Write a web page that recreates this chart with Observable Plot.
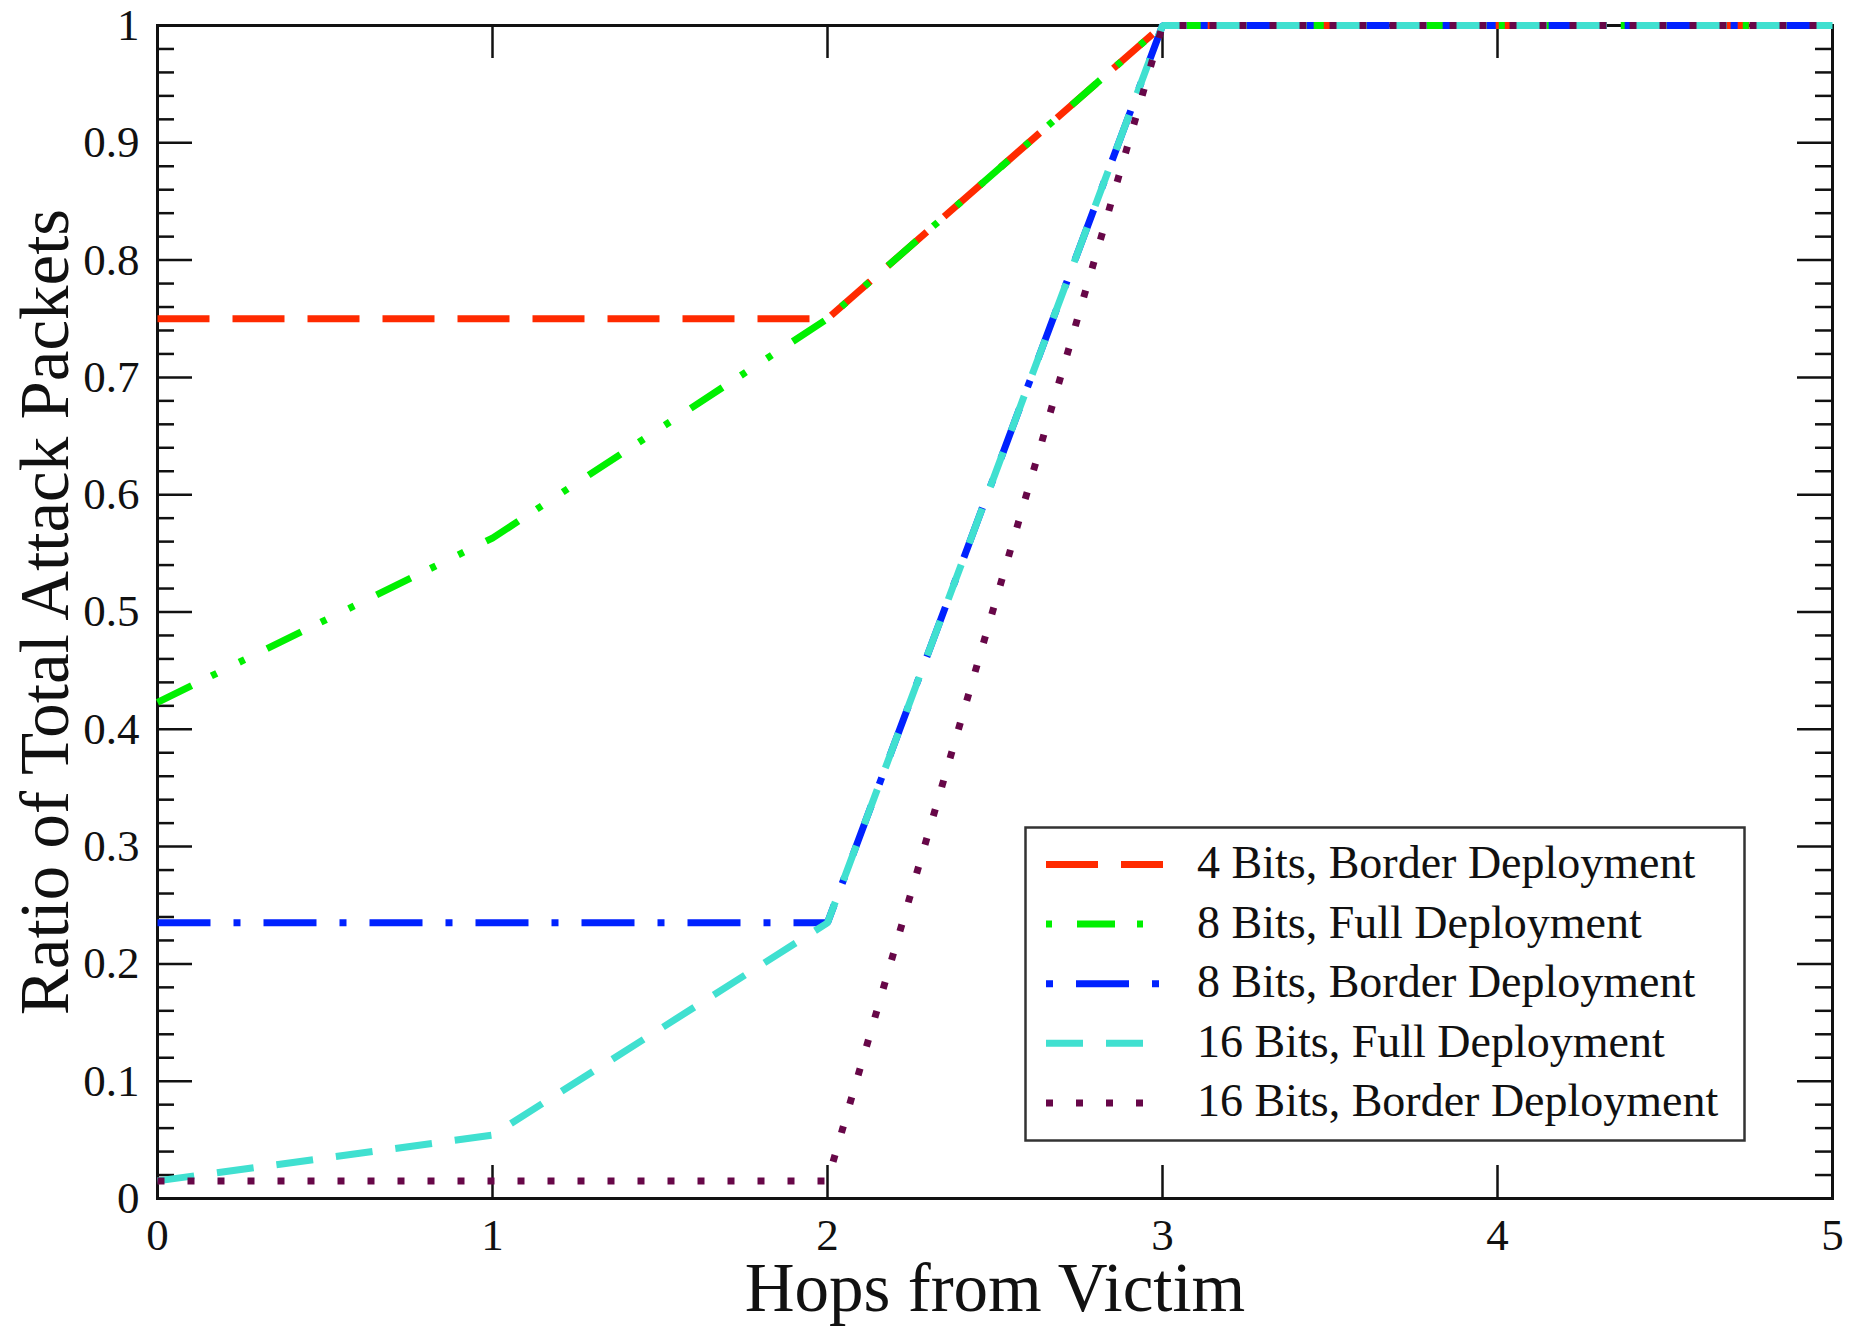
<!DOCTYPE html>
<html><head><meta charset="utf-8">
<script src="https://cdn.jsdelivr.net/npm/d3@7"></script>
<script src="https://cdn.jsdelivr.net/npm/@observablehq/plot@0.6"></script>
<style>
body{margin:0;background:#fff}
#wrap{position:relative;width:1851px;height:1326px}
#legend{position:absolute;left:1024px;top:826px}
</style></head><body><div id="wrap"></div>
<script>
// ---- data ----
const hops = [0, 1, 2, 3, 4, 5];
const seriesNames = [
  "4 Bits, Border Deployment",
  "8 Bits, Full Deployment",
  "8 Bits, Border Deployment",
  "16 Bits, Full Deployment",
  "16 Bits, Border Deployment"
];
const ratio4Border  = [0.75, 0.75, 0.75, 1, 1, 1];
const ratio8Full    = [0.423, 0.563, 0.75, 1, 1, 1];
const ratio8Border  = [0.235, 0.235, 0.235, 1, 1, 1];
const ratio16Full   = [0.015, 0.054, 0.235, 1, 1, 1];
const ratio16Border = [0.015, 0.015, 0.015, 1, 1, 1];
const seriesValues = [ratio4Border, ratio8Full, ratio8Border, ratio16Full, ratio16Border];
const seriesColors = ["#ff2a00", "#00f000", "#0022ff", "#40e0d0", "#670748"];
const seriesDashes = ["52,23", "38,22,6,25,6,25", "53,23,7,23", "37,23", "7,23"];
const legendDashOffsets = [0, 91, 76, 0, 0];

const xTicks = [0, 1, 2, 3, 4, 5];
const xTickLabels = ["0", "1", "2", "3", "4", "5"];
const yTicks = [0, 0.1, 0.2, 0.3, 0.4, 0.5, 0.6, 0.7, 0.8, 0.9, 1];
const yTickLabels = ["0", "0.1", "0.2", "0.3", "0.4", "0.5", "0.6", "0.7", "0.8", "0.9", "1"];
const yMinorTicks = d3.range(1, 50).filter(k => k % 5 !== 0).map(k => k / 50);
const xTitle = "Hops from Victim";
const yTitle = "Ratio of Total Attack Packets";

// ---- layout ----
const W = 1851, H = 1326, mL = 157, mR = 19, mT = 25, mB = 128;
const innerW = W - mL - mR, innerH = H - mT - mB;
const majorLen = 33, minorLen = 17;
const FONT = "'Liberation Serif', 'Times New Roman', Times, serif";

const rows = seriesNames.flatMap((name, i) =>
  hops.map((h, j) => ({series: name, hop: h, ratio: seriesValues[i][j]})));

const tickStyle = {stroke: "#111", strokeWidth: 2.5};

const plot = Plot.plot({
  width: W, height: H,
  marginLeft: mL, marginRight: mR, marginTop: mT, marginBottom: mB,
  style: {fontFamily: FONT, fontSize: "45px", color: "#111", background: "#fff"},
  x: {domain: [0, 5], axis: null},
  y: {domain: [0, 1], axis: null},
  marks: [
    Plot.frame({stroke: "#111", strokeWidth: 3}),
    Plot.ruleX(xTicks, {x: d => d, insetTop: innerH - majorLen, ...tickStyle}),
    Plot.ruleX(xTicks, {x: d => d, insetBottom: innerH - majorLen, ...tickStyle}),
    Plot.ruleY(yTicks, {y: d => d, insetRight: innerW - 35, ...tickStyle}),
    Plot.ruleY(yTicks, {y: d => d, insetLeft: innerW - 35, ...tickStyle}),
    Plot.ruleY(yMinorTicks, {y: d => d, insetRight: innerW - minorLen, ...tickStyle}),
    Plot.ruleY(yMinorTicks, {y: d => d, insetLeft: innerW - minorLen, ...tickStyle}),
    Plot.axisX(xTicks, {anchor: "bottom", tickSize: 0, tickPadding: 20, fontSize: 45,
      tickFormat: d => xTickLabels[xTicks.indexOf(d)], label: null}),
    Plot.axisY(yTicks, {anchor: "left", tickSize: 0, tickPadding: 18, fontSize: 45,
      tickFormat: d => yTickLabels[yTicks.indexOf(d)], label: null}),
    ...seriesNames.map((name, i) => Plot.line(rows.filter(r => r.series === name), {
      x: "hop", y: "ratio", stroke: seriesColors[i], strokeWidth: 7,
      strokeDasharray: seriesDashes[i], strokeLinecap: "butt", strokeLinejoin: "miter"
    })),
    Plot.text([xTitle], {text: d => d, frameAnchor: "bottom", dy: 90, fontSize: 69,
      textAnchor: "middle", lineAnchor: "middle"}),
    Plot.text([yTitle], {text: d => d, frameAnchor: "left", dx: -112, rotate: -90, fontSize: 69,
      textAnchor: "middle", lineAnchor: "middle"})
  ]
});
document.getElementById("wrap").appendChild(plot);

// ---- legend ----
const lg = d3.select("#wrap").append("svg").attr("id", "legend")
  .attr("width", 724).attr("height", 318)
  .style("font-family", FONT);
lg.append("rect").attr("x", 1.5).attr("y", 1.5).attr("width", 719).attr("height", 313)
  .attr("fill", "#fff").attr("stroke", "#333").attr("stroke-width", 2.5);
seriesNames.forEach((name, i) => {
  const yl = 38.5 + i * 59.6;
  lg.append("line").attr("x1", 22).attr("x2", 139).attr("y1", yl).attr("y2", yl)
    .attr("stroke", seriesColors[i]).attr("stroke-width", 7)
    .attr("stroke-dasharray", seriesDashes[i]).attr("stroke-dashoffset", legendDashOffsets[i]);
  lg.append("text").attr("x", 173).attr("y", 52 + i * 59.6).attr("font-size", 46)
    .attr("fill", "#111").text(name);
});
</script></body></html>
